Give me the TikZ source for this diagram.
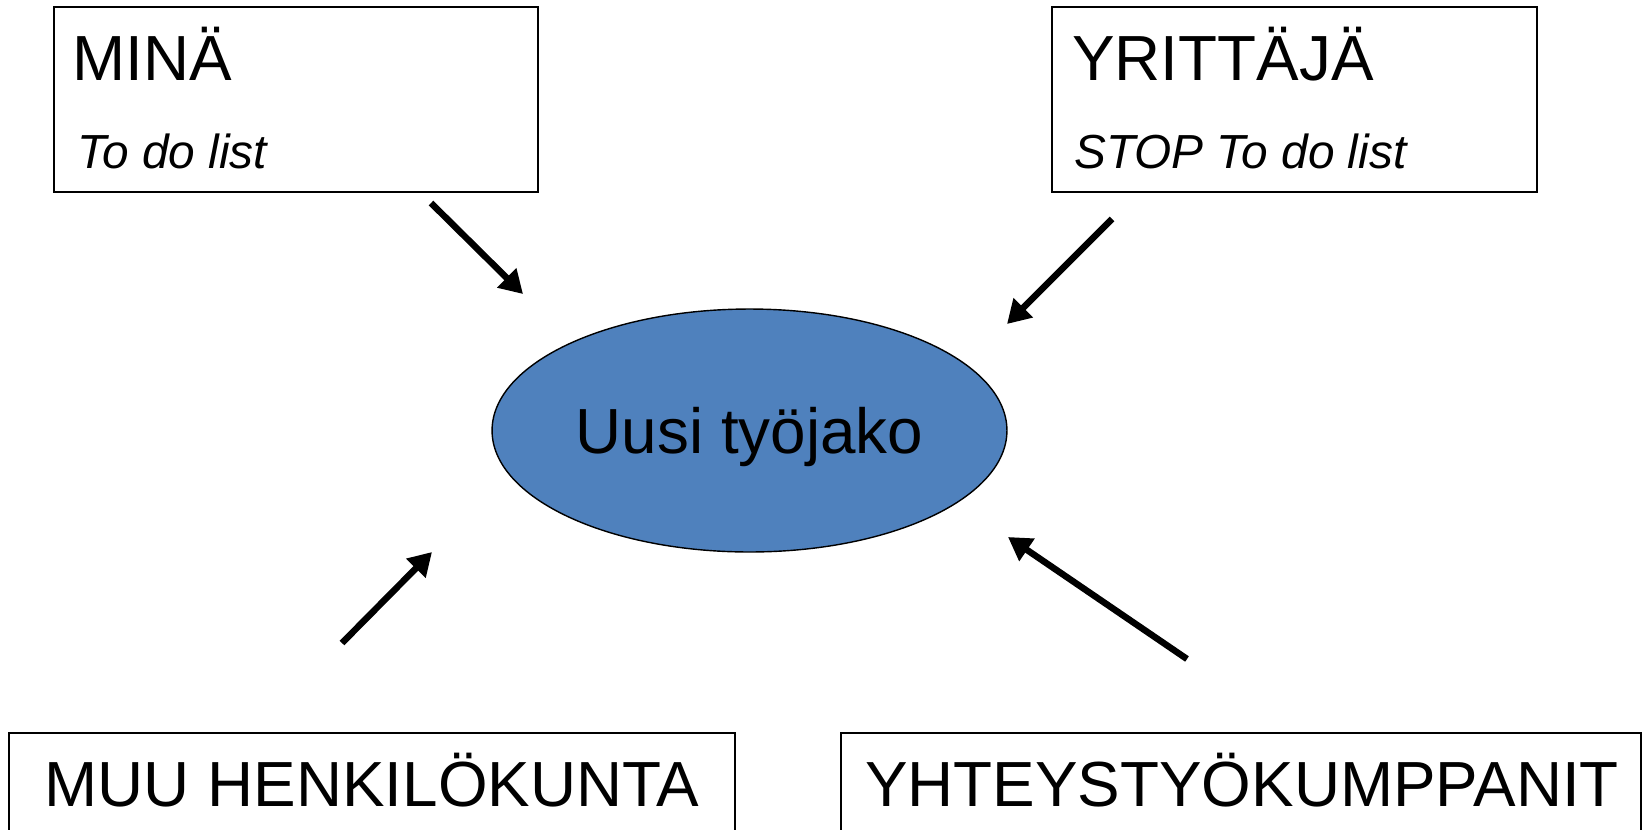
\documentclass[tikz,border=0pt]{standalone}
\usepackage{fontspec}
\setmainfont{Liberation Sans}
\usetikzlibrary{arrows.meta,shapes.geometric}

\begin{document}
\begin{tikzpicture}[x=0.02cm,y=-0.02cm,
  box/.style={draw=black,line width=1.1pt,minimum height=3.7cm,inner sep=0pt},
  bigtext/.style={font=\fontsize{36.3}{43}\selectfont,inner sep=0pt},
  smalltext/.style={font=\fontsize{27.2}{32}\selectfont\itshape,inner sep=0pt},
  arr/.style={line width=0.13cm,-{Triangle[length=0.46cm,width=0.52cm]}}]
% ------------------------------------------------ colors
\definecolor{office_blue}{RGB}{79,129,189} %#4F81BD

\useasboundingbox (0,0) rectangle (1648,829);

% ------------------------------------------------ boxes
\node[box,minimum width=9.68cm] (mina)    at (296,99.5)   {};
\node[box,minimum width=9.7cm]  (yrit)    at (1294.5,99.5) {};
\node[box,minimum width=14.52cm] (muu)    at (372,825.5)  {};
\node[box,minimum width=16cm]   (yhteys)  at (1241,825.5) {};

\node[bigtext,anchor=base west]   (minaT)  at (72,80)    {MINÄ};
\node[smalltext,anchor=base west] (minaS)  at (77,168)   {To do list};
\node[bigtext,anchor=base west]   (yritT)  at (1072,80)  {YRITTÄJÄ};
\node[smalltext,anchor=base west] (yritS)  at (1074,168) {STOP To do list};
\node[bigtext,anchor=base]        (muuT)   at (372,806)  {MUU HENKILÖKUNTA};
\node[bigtext,anchor=base]        (yhteysT) at (1242,806) {YHTEYSTYÖKUMPPANIT};

% ------------------------------------------------ ellipse
\node[ellipse,draw=black,line width=0.8pt,fill=office_blue,
      minimum width=10.3cm,minimum height=4.86cm,inner sep=0pt,
      bigtext,text height=26pt,text depth=0pt] (tyojako) at (749.5,430.5) {Uusi työjako};

% ------------------------------------------------ arrows
\coordinate (a1s) at (431,203);  \coordinate (a1e) at (523,294);
\coordinate (a2s) at (1112,219); \coordinate (a2e) at (1007,324);
\coordinate (a3s) at (342,643);  \coordinate (a3e) at (432,552);
\coordinate (a4s) at (1187,659); \coordinate (a4e) at (1008,537);

\draw[arr] (a1s) -- (a1e);
\draw[arr] (a2s) -- (a2e);
\draw[arr] (a3s) -- (a3e);
\draw[arr] (a4s) -- (a4e);

\end{tikzpicture}
\end{document}
